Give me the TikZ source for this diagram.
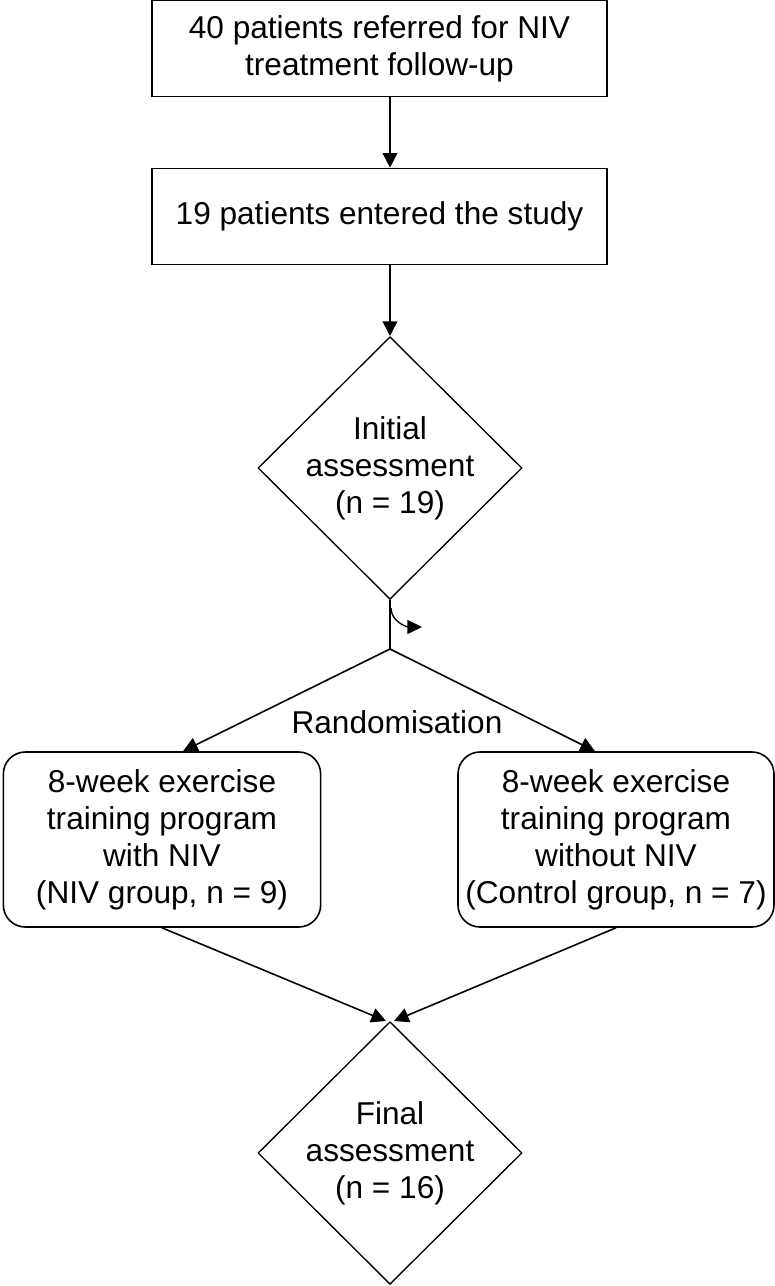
\documentclass[tikz,border=0pt]{standalone}
\usepackage{fontspec}
\setmainfont{Liberation Sans}
\usetikzlibrary{shapes.geometric, positioning, arrows.meta}
\tikzset{
  process/.style={rectangle, minimum width=341.25pt, minimum height=72pt, inner sep=0pt, align=center, draw=black, line width=1.2pt},
  decision/.style={diamond, minimum width=198pt, minimum height=197pt, inner sep=-14pt, align=center, draw=black, line width=1pt},
  group/.style={rectangle, rounded corners=16.5pt, minimum width=238pt, minimum height=131.25pt, inner sep=0pt, align=center, draw=black, line width=1.2pt},
  arrow/.style={line width=1.2pt, -{Triangle[length=11pt,width=11pt]}}
}

\begin{document}
\begin{tikzpicture}[
    x=0.75pt, y=-0.75pt,
    every node/.style={font=\fontsize{23.7}{27.75}\selectfont}
  ]
  \useasboundingbox (0,0) rectangle (775,1286);

  % Nodos
  \node (referred) [process] at (379.5,48.5) {40 patients referred for NIV\\treatment follow-up};
  \node (entered) [process] at (379.5,216.5) {19 patients entered the study};
  \node (initial) [decision] at (390,468) {Initial\\assessment\\(n = 19)};
  \coordinate (split) at (390,649);
  \node (rand) at (397,722) {Randomisation};
  \node (grpniv) [group] at (162,839.5) {8-week exercise\\training program\\with NIV\\(NIV group, n = 9)};
  \node (grpctrl) [group, minimum width=237pt] at (616,839.5) {8-week exercise\\training program\\without NIV\\(Control group, n = 7)};
  \node (final) [decision] at (390,1153) {Final\\assessment\\(n = 16)};

  % Conexiones
  \draw [arrow] (referred.south -| initial.north) -- (entered.north -| initial.north);
  \draw [arrow] (entered.south -| initial.north) -- (initial.north);
  \draw [line width=1.2pt] (initial.south) -- (split);

  % Flecha de giro
  \coordinate (turnA) at (391,608);
  \coordinate (turnB) at (422,627);
  \draw [line width=1pt, -{Triangle[length=11pt,width=10.5pt]}] (turnA) to[out=-90, in=180] (turnB);

  % Aleatorizacion
  \draw [arrow] (split) -- ([xshift=15.75pt]grpniv.north);
  \draw [arrow] (split) -- ([xshift=-15.75pt]grpctrl.north);

  % Evaluacion final
  \draw [arrow] (grpniv.south) -- ([xshift=-3pt]final.north);
  \draw [arrow] (grpctrl.south) -- ([xshift=3pt]final.north);
\end{tikzpicture}
\end{document}
